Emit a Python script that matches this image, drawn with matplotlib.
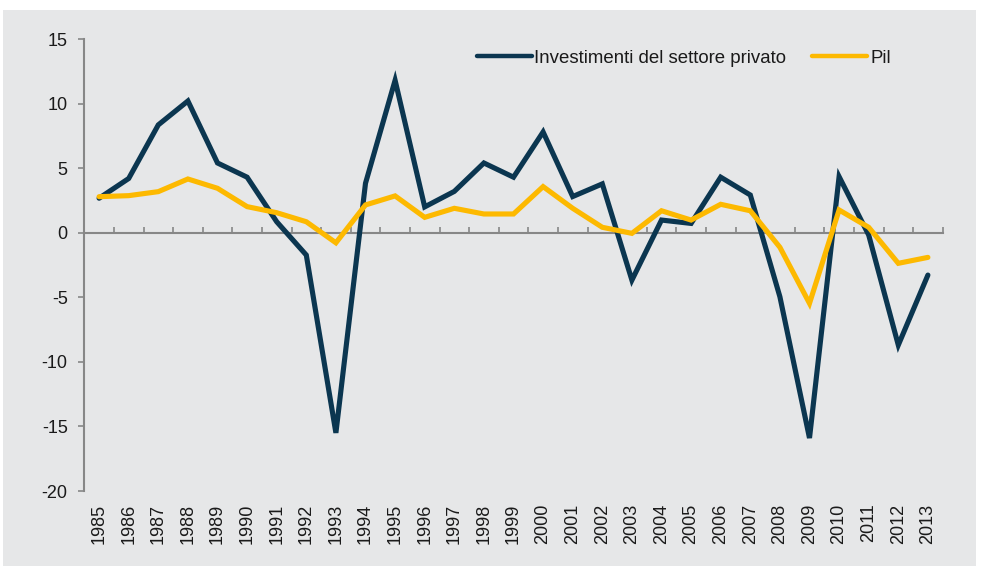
import matplotlib
matplotlib.use("Agg")
import matplotlib.pyplot as plt
from matplotlib.patches import Rectangle

years = [str(y) for y in range(1985, 2014)]
investimenti = [2.67, 4.2, 8.35, 10.2, 5.4, 4.3, 0.85, -1.73, -15.5, 3.83,
                11.8, 2.0, 3.2, 5.4, 4.3, 7.8, 2.8, 3.78, -3.67, 0.98,
                0.72, 4.3, 2.92, -4.96, -15.9, 4.34, -0.18, -8.7, -3.28]
pil = [2.79, 2.87, 3.18, 4.16, 3.44, 2.02, 1.55, 0.85, -0.78, 2.15,
       2.85, 1.19, 1.89, 1.45, 1.45, 3.57, 1.89, 0.42, -0.05, 1.7,
       0.98, 2.2, 1.7, -1.13, -5.47, 1.76, 0.42, -2.37, -1.91]
yticks = [-20, -15, -10, -5, 0, 5, 10, 15]

plt.rcParams['font.family'] = ['Liberation Sans', 'DejaVu Sans']

W, H = 981, 571
fig = plt.figure(figsize=(W / 100, H / 100), dpi=100)
fig.patch.set_facecolor('white')
bg = '#e6e7e8'
fig.patches.append(Rectangle((3 / W, 1 - 566 / H), (976 - 3) / W, (566 - 10) / H,
                             transform=fig.transFigure, facecolor=bg,
                             edgecolor='none', zorder=-10))

left, right, top, bottom = 84.3, 942.7, 39.0, 491.0
ax = fig.add_axes([left / W, 1 - bottom / H, (right - left) / W, (bottom - top) / H])
ax.set_facecolor('none')
ax.set_zorder(5)

navy = '#0b3650'
gold = '#fdb900'
grey = '#878787'

x = list(range(len(years)))
ax.plot(x, investimenti, color=navy, lw=3.7, solid_capstyle='round',
        solid_joinstyle='miter', label='Investimenti del settore privato', zorder=3)
ax.plot(x, pil, color=gold, lw=3.7, solid_capstyle='round',
        solid_joinstyle='miter', label='Pil', zorder=4)

ax.set_xlim(-0.5, len(years) - 0.5)
ax.set_ylim(-20, 15)
ax.set_yticks(yticks)
ax.set_yticklabels([str(v) for v in yticks])

for s in ['top', 'right']:
    ax.spines[s].set_visible(False)
ax.spines['left'].set_color(grey)
ax.spines['left'].set_linewidth(1.5)
ax.spines['bottom'].set_position(('data', 0))
ax.spines['bottom'].set_color(grey)
ax.spines['bottom'].set_linewidth(1.5)

ax.set_xticks([i + 0.5 for i in x])
ax.tick_params(axis='x', direction='in', length=4.5, width=1.2, color=grey,
               labelbottom=False)
ax.tick_params(axis='y', direction='out', length=4, width=1.2, color=grey,
               labelsize=13, pad=8, labelcolor='#1a1a1a')

sec = ax.secondary_xaxis('bottom')
sec.set_xticks(x)
sec.set_xticklabels(years, rotation=90)
sec.tick_params(length=0, pad=9, labelsize=13, labelcolor='#1a1a1a')
sec.spines['bottom'].set_visible(False)

leg = fig.legend(loc='center left', bbox_to_anchor=(476.7 / W, 1 - 58.3 / H),
                 bbox_transform=fig.transFigure, ncol=2, frameon=False,
                 fontsize=13.4, handlelength=2.95, handletextpad=0.15,
                 columnspacing=1.4, borderpad=0, borderaxespad=0)
for t in leg.get_texts():
    t.set_color('#1a1a1a')
for h in leg.get_lines():
    h.set_linewidth(3.2)

fig.savefig('out.png', dpi=100, facecolor=fig.get_facecolor())
